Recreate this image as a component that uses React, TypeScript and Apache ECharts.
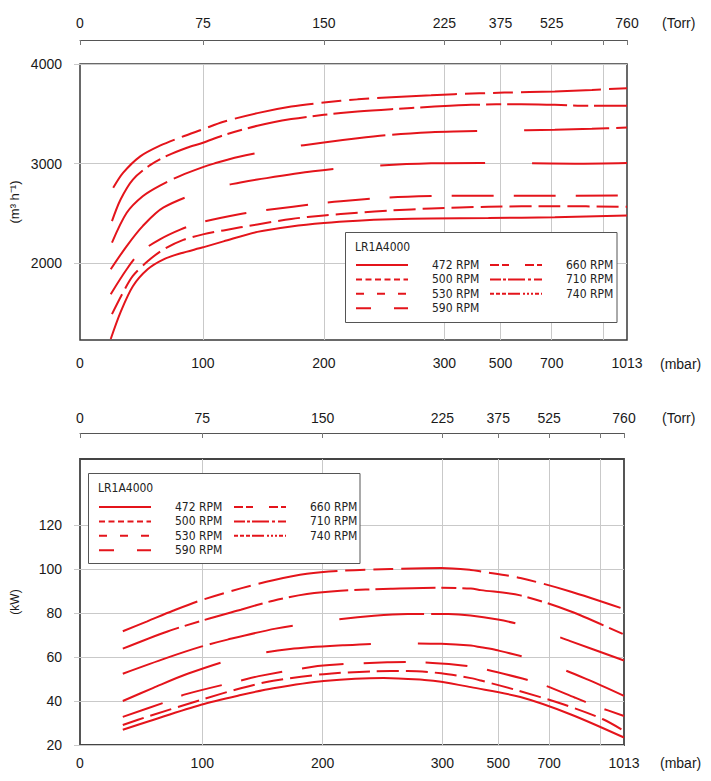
import React, { useEffect, useRef } from "react";
import * as echarts from "echarts";

// ---------- axis scale (mbar -> axis position, the original axis is piecewise) ----------
const MBAR_BREAKS = [0, 100, 200, 300, 500, 700, 900, 1013];
const POS_BREAKS = [0, 122.5, 243, 363, 419, 470, 521, 545];
const POS_MAX = 545;

const LABEL_MBAR = [0, 100, 200, 300, 500, 700, 1013];
const MBAR_LABELS = ["0", "100", "200", "300", "500", "700", "1013"];
const TORR_LABELS = ["0", "75", "150", "225", "375", "525", "760"];
const GRID_MBAR = [100, 200, 300, 500, 700, 900];
const TORR_TICK_MBAR = [0, 100, 200, 300, 500, 700, 900, 1013];

const FLOW_TICKS = [2000, 3000, 4000];
const POWER_TICKS = [20, 40, 60, 80, 100, 120];

const RPM = ["472 RPM", "500 RPM", "530 RPM", "590 RPM", "660 RPM", "710 RPM", "740 RPM"];

// ---------- pumping speed (m3/h) vs pressure (mbar) ----------
const FLOW_472 = [[25, 1240], [33, 1510], [43, 1770], [55, 1940], [68, 2040], [82, 2100], [100, 2160], [117, 2220], [145, 2315], [173, 2370], [200, 2405], [228, 2428], [256, 2442], [289, 2450], [457, 2455], [712, 2462], [1013, 2480]];
const FLOW_500 = [[26, 1490], [35, 1707], [43, 1873], [55, 2020], [68, 2140], [84, 2235], [100, 2290], [117, 2330], [145, 2390], [173, 2445], [200, 2480], [228, 2507], [256, 2530], [289, 2550], [457, 2567], [712, 2573], [1013, 2567]];
const FLOW_530 = [[25, 1690], [38, 1940], [49, 2110], [65, 2240], [82, 2340], [98, 2410], [131, 2495], [150, 2530], [199, 2605], [214, 2623], [253, 2660], [289, 2675], [361, 2677], [600, 2678], [1013, 2680]];
const FLOW_590 = [[25, 1940], [38, 2173], [51, 2373], [68, 2560], [105, 2745], [131, 2810], [145, 2840], [191, 2923], [231, 2970], [289, 3003], [425, 3007], [600, 3005], [790, 3000], [1013, 3007]];
const FLOW_660 = [[26, 2207], [38, 2507], [51, 2673], [65, 2780], [82, 2880], [100, 2965], [109, 3000], [129, 3067], [167, 3155], [200, 3213], [228, 3255], [256, 3290], [289, 3316], [336, 3323], [493, 3330], [712, 3340], [857, 3350], [1013, 3363]];
const FLOW_710 = [[26, 2423], [33, 2640], [43, 2840], [57, 2985], [71, 3080], [87, 3160], [100, 3210], [117, 3285], [145, 3380], [173, 3447], [200, 3490], [228, 3523], [256, 3547], [289, 3570], [396, 3590], [580, 3597], [712, 3590], [857, 3580], [1013, 3580]];
const FLOW_740 = [[27, 2757], [35, 2907], [49, 3073], [65, 3180], [82, 3265], [100, 3345], [117, 3420], [145, 3507], [173, 3573], [200, 3613], [228, 3645], [256, 3667], [289, 3686], [336, 3697], [515, 3713], [712, 3725], [857, 3740], [1013, 3757]];

// ---------- shaft power (kW) vs pressure (mbar) ----------
const POWER_472 = [[35, 26.9], [57, 30.9], [99, 38.3], [132, 42.7], [159, 45.8], [201, 49.1], [251, 50.5], [285, 49.6], [299, 48.8], [402, 46.3], [587, 41.8], [783, 34], [1013, 23.4]];
const POWER_500 = [[35, 29.1], [57, 33.2], [99, 40.5], [132, 45.8], [159, 49.2], [201, 52.2], [243, 53.5], [271, 53.6], [299, 52.6], [402, 50.4], [438, 49.3], [576, 44.8], [755, 38.5], [914, 31.7], [1013, 26.4]];
const POWER_530 = [[35, 32.8], [71, 39.7], [86, 43], [132, 49.3], [147, 51.3], [192, 55.6], [212, 56.6], [254, 57.6], [271, 57.7], [356, 56.4], [438, 54.8], [595, 50.2], [673, 47.5], [802, 41.5], [883, 37.7], [1013, 33.2]];
const POWER_590 = [[35, 40], [60, 46], [88, 52.4], [132, 60], [173, 63.6], [217, 65.3], [259, 66.2], [299, 66], [402, 65.2], [438, 64.4], [492, 63.2], [684, 57.3], [850, 49.8], [1013, 42.3]];
const POWER_660 = [[35, 52.4], [71, 59.6], [99, 64.7], [121, 67.9], [161, 72.9], [201, 76.3], [243, 78.8], [271, 79.6], [322, 79.5], [499, 77], [653, 72.6], [783, 67.2], [1013, 58.4]];
const POWER_710 = [[35, 63.8], [71, 71.5], [99, 76.4], [132, 81.5], [159, 85.6], [187, 88.6], [215, 90.1], [257, 91], [299, 91.5], [402, 91.1], [438, 90.4], [587, 88], [783, 80.8], [1013, 70.2]];
const POWER_740 = [[35, 71.7], [55, 76.2], [76, 81], [99, 85.8], [132, 91.2], [159, 94.9], [187, 97.8], [215, 99.2], [257, 100], [299, 100.4], [402, 99.6], [438, 98.9], [587, 95.9], [783, 89.8], [1013, 81.8]];

const FLOW_SERIES = [FLOW_472, FLOW_500, FLOW_530, FLOW_590, FLOW_660, FLOW_710, FLOW_740];
const POWER_SERIES = [POWER_472, POWER_500, POWER_530, POWER_590, POWER_660, POWER_710, POWER_740];

// ---------- styles ----------
const RED = "#e4141b";
const GRID_COLOR = "#c9c9c9";
const TEXT = "#1a1a1a";
const AXIS_FONT = "'Liberation Sans', Arial, sans-serif";
const LEGEND_FONT = "'Liberation Sans Narrow', 'DejaVu Sans Condensed', 'Liberation Sans', sans-serif";

const PLOT_DASH: any[] = ["solid", [22, 7], [42, 20], [105, 47], [85, 7, 85, 47], [60, 6, 15, 6], [80, 8, 20, 8, 20, 8]];
const LEGEND_DASH: any[] = ["solid", [6, 3.5], [8, 13], [15, 23], [9, 3, 7, 16], [11, 2, 3, 2, 17, 3, 3, 3], [4, 2, 4, 2, 4, 2, 12, 3, 2, 2, 2, 2, 2, 2]];

function toPos(m: number): number {
  for (let i = 1; i < MBAR_BREAKS.length; i++) {
    if (m <= MBAR_BREAKS[i]) {
      const a = MBAR_BREAKS[i - 1], b = MBAR_BREAKS[i];
      const pa = POS_BREAKS[i - 1], pb = POS_BREAKS[i];
      return pa + ((m - a) / (b - a)) * (pb - pa);
    }
  }
  return POS_MAX;
}

const LABEL_POS = LABEL_MBAR.map(toPos);
const GRID_POS = GRID_MBAR.map(toPos);
const TORR_TICK_POS = TORR_TICK_MBAR.map(toPos);

function fmt(labels: string[]) {
  return (v: number) => {
    const i = LABEL_POS.findIndex((p) => Math.abs(p - v) < 0.01);
    return i < 0 ? "" : labels[i];
  };
}

const axisText = { color: TEXT, fontSize: 14, fontFamily: AXIS_FONT };

function mbarAxis(grid: number, margin: number) {
  return {
    type: "value", gridIndex: grid, position: "bottom", min: 0, max: POS_MAX,
    axisLine: { show: false, onZero: false },
    axisTick: { show: false, customValues: GRID_POS },
    splitLine: { show: true, lineStyle: { color: GRID_COLOR, width: 1 } },
    axisLabel: { customValues: LABEL_POS, formatter: fmt(MBAR_LABELS), margin, ...axisText },
  };
}

function torrAxis(grid: number, offset: number, margin: number) {
  return {
    type: "value", gridIndex: grid, position: "top", offset, min: 0, max: POS_MAX,
    axisLine: { show: true, onZero: false, lineStyle: { color: "#555", width: 1 } },
    axisTick: { show: true, inside: true, length: 5, customValues: TORR_TICK_POS, lineStyle: { color: "#777", width: 1 } },
    splitLine: { show: false },
    axisLabel: { customValues: LABEL_POS, formatter: fmt(TORR_LABELS), margin, ...axisText },
  };
}

function valueAxis(grid: number, min: number, max: number, ticks: number[], name: string, nameGap: number, nameSize: number) {
  return {
    type: "value", gridIndex: grid, position: "left", min, max,
    axisLine: { show: false, onZero: false },
    axisTick: { show: true, length: 6, customValues: ticks, lineStyle: { color: GRID_COLOR } },
    splitLine: { show: true, lineStyle: { color: GRID_COLOR, width: 1 } },
    axisLabel: { customValues: ticks, margin: 18, formatter: (v: number) => String(v), ...axisText },
    name, nameLocation: "middle", nameRotate: 90, nameGap, nameMoveOverlap: false,
    nameTextStyle: { color: TEXT, fontSize: nameSize, fontFamily: AXIS_FONT },
  };
}

function legend(names: number[], left: number, top: number) {
  return {
    orient: "vertical", left, top, padding: 0, itemWidth: 52, itemHeight: 14, itemGap: 0.4,
    selectedMode: false, z: 10,
    itemStyle: { color: "rgba(0,0,0,0)", borderWidth: 0, borderColor: "rgba(0,0,0,0)" },
    data: names.map((i) => ({ name: RPM[i], lineStyle: { type: LEGEND_DASH[i], width: 2, color: RED } })),
    textStyle: { color: "#222", fontSize: 12, lineHeight: 14, fontFamily: LEGEND_FONT, padding: [0, 0, 0, 19] },
  };
}

function legendBox(x: number, y: number) {
  return [
    { type: "rect", z: 3, shape: { x, y, width: 271.5, height: 90 }, style: { fill: "#fff", stroke: "#555", lineWidth: 1 } },
    { type: "text", z: 5, x: x + 9.5, y: y + 14.5, style: { text: "LR1A4000", fill: "#222", fontSize: 12, fontFamily: LEGEND_FONT, verticalAlign: "middle" } },
  ];
}

function unitText(text: string, x: number, y: number) {
  return { type: "text", z: 5, x, y, style: { text, fill: TEXT, fontSize: 14, fontFamily: AXIS_FONT, verticalAlign: "middle", align: "left" } };
}

function buildOption() {
  const series: any[] = [];
  [FLOW_SERIES, POWER_SERIES].forEach((set, p) => {
    set.forEach((arr, i) => {
      series.push({
        type: "line", name: RPM[i], xAxisIndex: p * 2, yAxisIndex: p,
        data: arr.map(([m, v]) => [toPos(m), v]),
        symbol: "none", smooth: 0.3, silent: true, z: 2,
        lineStyle: { color: RED, width: 2, type: PLOT_DASH[i] },
        itemStyle: { color: RED },
      });
    });
  });
  return {
    animation: false,
    backgroundColor: "#fff",
    grid: [
      { left: 80, top: 64, width: 547, height: 276, show: true, borderColor: "#383838", borderWidth: 1.5, backgroundColor: "transparent", containLabel: false, outerBoundsMode: "none" },
      { left: 80, top: 459, width: 544, height: 286, show: true, borderColor: "#444", borderWidth: 1.8, backgroundColor: "transparent", containLabel: false, outerBoundsMode: "none" },
    ],
    xAxis: [
      mbarAxis(0, 16),
      torrAxis(0, 24, 10),
      mbarAxis(1, 11),
      torrAxis(1, 26, 8),
    ],
    yAxis: [
      valueAxis(0, 1230, 4000, FLOW_TICKS, "(m³ h⁻¹)", 59, 13),
      valueAxis(1, 20, 150, POWER_TICKS, "(kW)", 59, 12),
    ],
    legend: [
      legend([0, 1, 2, 3], 355, 258),
      legend([4, 5, 6], 489, 258),
      legend([0, 1, 2, 3], 98, 500),
      legend([4, 5, 6], 233, 500),
    ],
    graphic: [
      ...legendBox(345.5, 232.5),
      ...legendBox(88.5, 473.5),
      unitText("(Torr)", 662, 23),
      unitText("(mbar)", 660, 364),
      unitText("(Torr)", 662, 418),
      unitText("(mbar)", 660, 763),
    ],
    series,
  };
}

export default function App() {
  const ref = useRef<HTMLDivElement>(null);
  useEffect(() => {
    document.body.style.margin = "0";
    const chart = echarts.init(ref.current as HTMLDivElement, undefined, { renderer: "svg" });
    chart.setOption(buildOption() as any);
    return () => chart.dispose();
  }, []);
  return <div ref={ref} style={{ width: 711, height: 781 }} />;
}
